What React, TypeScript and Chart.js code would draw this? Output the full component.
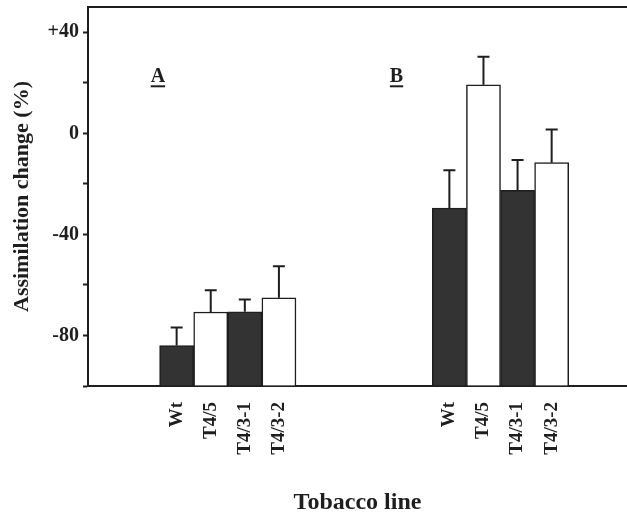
import React, { useEffect, useRef } from "react";
import { Chart, registerables } from "chart.js";

Chart.register(...registerables);

// ---- data ----
const lines = ["Wt", "T4/5", "T4/3-1", "T4/3-2"];
const panels = ["A", "B"];
const valuesA = [-84.0, -70.7, -70.6, -65.1];
const errorsA = [7.2, 8.6, 4.8, 12.5];
const valuesB = [-29.6, 19.2, -22.6, -11.6];
const errorsB = [15.0, 11.1, 12.0, 13.1];
const yTickValues = [-100, -80, -60, -40, -20, 0, 20, 40];
const yTickLabels = ["", "-80", "", "-40", "", "0", "", "+40"];
const yTitle = "Assimilation change (%)";
const xTitle = "Tobacco line";

// ---- layout / style constants ----
const Y_MIN = -100;
const Y_MAX = 50;
const BAR_BASE = -100;
const GROUP_START = [2, 10];
const X_MIN = -0.6;
const X_MAX = 15.21;
const PANEL_LABEL_X = [1.45, 8.45];
const PANEL_LABEL_Y = 20.2;
const DARK = "#333333";
const INK = "#1e1e1e";
const FILLS = [DARK, "#ffffff", DARK, "#ffffff"];
const FAMILY = "'Liberation Serif', 'Times New Roman', serif";

const allValues = [valuesA, valuesB];
const allErrors = [errorsA, errorsB];

type Pt = { x: number; y: number; err: number; name: string; fill: string };
const points: Pt[] = [];
panels.forEach((_, gi) => {
  lines.forEach((name, li) => {
    points.push({
      x: GROUP_START[gi] + li,
      y: allValues[gi][li],
      err: allErrors[gi][li],
      name,
      fill: FILLS[li],
    });
  });
});

const errorBars = {
  id: "errorBars",
  afterDatasetsDraw(chart: any) {
    const meta = chart.getDatasetMeta(0);
    const ys = chart.scales.y;
    const ctx = chart.ctx;
    ctx.save();
    ctx.strokeStyle = INK;
    ctx.lineWidth = 2;
    meta.data.forEach((el: any, i: number) => {
      const p = points[i];
      const top = ys.getPixelForValue(p.y + p.err);
      ctx.beginPath();
      ctx.moveTo(el.x, el.y);
      ctx.lineTo(el.x, top);
      ctx.moveTo(el.x - 6, top);
      ctx.lineTo(el.x + 6, top);
      ctx.stroke();
    });
    ctx.restore();
  },
};

const frameAndPanels = {
  id: "frameAndPanels",
  afterDraw(chart: any) {
    const { ctx, chartArea } = chart;
    const xs = chart.scales.x;
    const ys = chart.scales.y;
    ctx.save();
    ctx.strokeStyle = INK;
    ctx.lineWidth = 2;
    ctx.beginPath();
    ctx.moveTo(chartArea.left - 1, chartArea.top);
    ctx.lineTo(chartArea.right, chartArea.top);
    ctx.stroke();

    ctx.font = `bold 20px ${FAMILY}`;
    ctx.fillStyle = INK;
    ctx.textAlign = "center";
    ctx.textBaseline = "alphabetic";
    panels.forEach((label, i) => {
      const px = xs.getPixelForValue(PANEL_LABEL_X[i]);
      const py = ys.getPixelForValue(PANEL_LABEL_Y);
      ctx.fillText(label, px, py);
      const w = ctx.measureText(label).width;
      ctx.lineWidth = 2;
      ctx.beginPath();
      ctx.moveTo(px - w / 2, py + 4);
      ctx.lineTo(px + w / 2, py + 4);
      ctx.stroke();
    });
    ctx.restore();
  },
};

export default function App() {
  const ref = useRef<HTMLCanvasElement | null>(null);

  useEffect(() => {
    if (!ref.current) return;
    const chart = new Chart(ref.current, {
      type: "bar",
      data: {
        datasets: [
          {
            data: points.map((p) => ({ x: p.x, y: p.y })),
            base: BAR_BASE,
            backgroundColor: points.map((p) => p.fill),
            borderColor: INK,
            borderWidth: 1.5,
            barPercentage: 1,
            categoryPercentage: 1,
          } as any,
        ],
      },
      options: {
        animation: false,
        responsive: false,
        devicePixelRatio: 1,
        layout: { padding: { top: 7, left: 0, right: 0, bottom: 0 } },
        plugins: {
          legend: { display: false },
          tooltip: { enabled: false },
        },
        scales: {
          x: {
            type: "linear",
            offset: false,
            min: X_MIN,
            max: X_MAX,
            afterBuildTicks: (s: any) => {
              s.ticks = points.map((p) => ({ value: p.x }));
            },
            afterFit: (s: any) => {
              s.height = 133;
              s.paddingLeft = 0;
              s.paddingRight = 0;
            },
            ticks: {
              autoSkip: false,
              maxRotation: 90,
              minRotation: 90,
              padding: 16,
              color: INK,
              font: { family: FAMILY, size: 19, weight: "bold" },
              callback: (_v: any, i: number) => points[i].name,
            },
            grid: { display: false, drawTicks: false, offset: false },
            border: { display: true, color: INK, width: 2 },
            title: {
              display: true,
              text: xTitle,
              color: INK,
              font: { family: FAMILY, size: 24, weight: "bold" },
              padding: { top: 0, bottom: 2 },
            },
          },
          y: {
            type: "linear",
            min: Y_MIN,
            max: Y_MAX,
            afterBuildTicks: (s: any) => {
              s.ticks = yTickValues.map((v) => ({ value: v }));
            },
            afterFit: (s: any) => {
              s.width = 88;
              s.paddingTop = 0;
              s.paddingBottom = 0;
            },
            ticks: {
              autoSkip: false,
              padding: 4,
              color: INK,
              font: { family: FAMILY, size: 20, weight: "bold" },
              callback: (_v: any, i: number) => yTickLabels[i],
            },
            grid: {
              display: true,
              drawOnChartArea: false,
              drawTicks: true,
              tickLength: 5,
              tickWidth: 2,
              tickColor: INK,
            },
            border: { display: true, color: INK, width: 2 },
            title: {
              display: true,
              text: yTitle,
              color: INK,
              font: { family: FAMILY, size: 22, weight: "bold" },
              padding: { top: 9, bottom: 0 },
            },
          },
        },
      } as any,
      plugins: [errorBars, frameAndPanels],
    });
    return () => chart.destroy();
  }, []);

  return (
    <div style={{ position: "fixed", left: 0, top: 0, width: 627, height: 519, background: "#ffffff" }}>
      <canvas ref={ref} width={627} height={519} style={{ display: "block" }} />
    </div>
  );
}
